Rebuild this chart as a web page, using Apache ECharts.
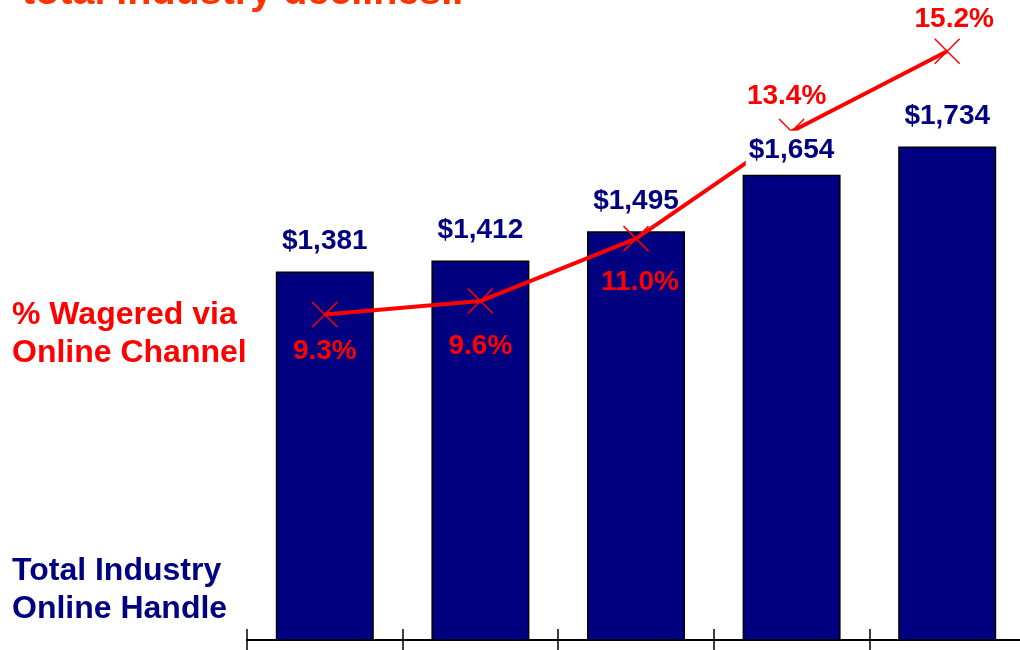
<!DOCTYPE html>
<html>
<head>
<meta charset="utf-8">
<script src="https://cdn.jsdelivr.net/npm/echarts@6/dist/echarts.min.js"></script>
<style>
  html, body { margin: 0; padding: 0; background: #fff; }
  #chart { width: 1020px; height: 650px; }
</style>
</head>
<body>
<div id="chart"></div>
<script>
  // data
  var categories = ['Y1', 'Y2', 'Y3', 'Y4', 'Y5'];
  var handle = [1381, 1412, 1495, 1654, 1734];
  var onlineShare = [9.3, 9.6, 11.0, 13.4, 15.2];
  // where each % label sits around its point
  var shareLabelOffset = [[0, 37], [0, 45], [4, 44], [-5, -35], [7, -32]];
  var handleLabelGap = [16, 16, 16, 8, 16];
  // this bar label sits in a white box that hides the line behind it
  var boxedLabel = 3;

  var NAVY = '#000080';
  var RED = '#ff0000';
  var FONT = 'Arial, "Liberation Sans", sans-serif';

  var handleLabel = {
    position: 'top',
    color: NAVY,
    fontFamily: FONT,
    fontWeight: 'bold',
    fontSize: 28,
    formatter: function (p) { return '$' + p.value.toLocaleString('en-US'); }
  };

  var chart = echarts.init(document.getElementById('chart'));

  var option = {
    animation: false,
    grid: { left: 247, width: 778, top: 0, bottom: 10, outerBoundsMode: 'none' },
    xAxis: [{
      type: 'category',
      data: categories,
      axisLine: { lineStyle: { color: '#000', width: 2 } },
      axisTick: { show: true, inside: false, length: 10, lineStyle: { color: '#000', width: 1.5 } },
      axisLabel: { show: false }
    }, {
      type: 'category',
      position: 'bottom',
      data: categories,
      axisLine: { show: false },
      axisTick: { show: true, inside: true, length: 11, lineStyle: { color: '#000', width: 1.5 } },
      axisLabel: { show: false }
    }],
    yAxis: [{
      type: 'value', min: 340, max: 2148, show: false, splitLine: { show: false }
    }, {
      type: 'value', min: 2, max: 16.35, show: false, splitLine: { show: false }
    }],
    series: [{
      type: 'bar',
      z: 2,
      data: handle.map(function (v, i) {
        return { value: v, label: { show: i !== boxedLabel, distance: handleLabelGap[i] } };
      }),
      barWidth: 98,
      itemStyle: { color: NAVY, borderColor: '#000', borderWidth: 1.5 },
      label: handleLabel
    }, {
      type: 'line',
      yAxisIndex: 1,
      z: 3,
      data: onlineShare.map(function (v, i) {
        return { value: v, label: { offset: shareLabelOffset[i] } };
      }),
      lineStyle: { color: RED, width: 4 },
      symbol: 'path://M0,0L10,10M10,0L0,10',
      symbolSize: 25,
      itemStyle: { color: 'none', borderColor: RED, borderWidth: 1.5 },
      label: {
        show: true,
        position: 'inside',
        color: RED,
        fontFamily: FONT,
        fontWeight: 'bold',
        fontSize: 28,
        formatter: function (p) { return p.value.toFixed(1) + '%'; }
      }
    }, {
      // invisible copy of the bars, only to lift the boxed label above the line
      type: 'bar',
      z: 10,
      barGap: '-100%',
      barWidth: 98,
      silent: true,
      itemStyle: { color: 'rgba(0,0,0,0)', borderWidth: 0 },
      data: handle.map(function (v, i) {
        return {
          value: v,
          label: {
            show: i === boxedLabel,
            distance: handleLabelGap[i],
            backgroundColor: '#fff',
            padding: [5, 3, 3, 3]
          }
        };
      }),
      label: handleLabel
    }],
    graphic: [{
      type: 'text',
      left: 22,
      top: -27,
      style: {
        text: 'total industry declines..',
        fill: '#ff3300',
        font: 'bold 39.5px ' + FONT
      }
    }, {
      type: 'text',
      left: 12,
      top: 296,
      style: {
        text: '% Wagered via\nOnline Channel',
        fill: RED,
        font: 'bold 32px ' + FONT,
        lineHeight: 38
      }
    }, {
      type: 'text',
      left: 12,
      top: 552,
      style: {
        text: 'Total Industry\nOnline Handle',
        fill: NAVY,
        font: 'bold 32px ' + FONT,
        lineHeight: 38
      }
    }]
  };

  chart.setOption(option);
</script>
</body>
</html>
